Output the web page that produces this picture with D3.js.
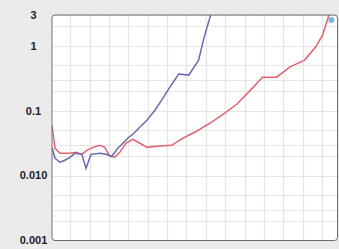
<!DOCTYPE html>
<html><head><meta charset="utf-8">
<script src="https://cdn.jsdelivr.net/npm/d3@7/dist/d3.min.js"></script>
<style>html,body{margin:0;padding:0;background:#ebebeb;}svg{display:block;}</style>
</head><body>
<svg id="c" width="339" height="249"></svg>
<script>
// Data (x = day, y = value, log scale)
const blueDays = [-6.6,-5.5,-3.7,-1.9,-0.1,1.7,4.2,5.7,7.5,10.7,12.9,15.0,17.2,19.4,20.8,23.0,25.1,27.7,30.6,33.5,36.0,39.2,42.8,46.4,48.3,49.7,51.5];
const blueValues = [0.0273,0.0185,0.0161,0.0173,0.0192,0.0221,0.0213,0.0130,0.0213,0.0221,0.0213,0.0199,0.0264,0.0327,0.0377,0.0451,0.0559,0.0716,0.102,0.157,0.232,0.368,0.355,0.605,1.32,2.10,3.85];
const redDays = [-6.6,-5.5,-3.7,-1.9,-0.1,2.1,4.2,6.0,8.2,10.7,12.5,14.3,16.1,17.9,20.1,22.6,25.2,27.7,31.3,36.7,39.6,42.1,45.7,48.6,51.1,55.8,60.2,64.8,69.5,74.6,79.3,84.7,88.7,91.2,93.4,94.8];
const redValues = [0.0598,0.0264,0.0221,0.0221,0.0221,0.0229,0.0213,0.0246,0.0273,0.0294,0.0273,0.0199,0.0192,0.0229,0.0316,0.0364,0.0316,0.0273,0.0284,0.0294,0.0352,0.0405,0.0484,0.0578,0.0667,0.0918,0.126,0.201,0.330,0.330,0.472,0.605,0.962,1.47,2.90,3.85];
const markerDay = 94.4, markerValue = 2.51;
const yTickValues = [3, 1, 0.1, 0.01, 0.001];
const yTickLabels = ["3", "1", "0.1", "0.010", "0.001"];
const xGridDays = d3.range(0, 92, 7);
const yGridValues = [];
[0.001,0.01,0.1,1].forEach(d => [1,2,3,5].forEach(m => yGridValues.push(d*m)));

const svg = d3.select("#c");
const L = 52, R = 337.5, T = 15, B = 240.5;
const x = d3.scaleLinear().domain([-6.6, 96.6]).range([L, R]);
const y = d3.scaleLog().domain([0.001, 3]).range([B, T]);

svg.append("defs").append("clipPath").attr("id","clip")
  .append("rect").attr("x", L).attr("y", T).attr("width", R-L).attr("height", B-T).attr("rx", 3);

svg.append("rect").attr("x", L).attr("y", T).attr("width", R-L).attr("height", B-T)
  .attr("rx", 3).attr("fill", "#fff");

const g = svg.append("g").attr("clip-path", "url(#clip)");
g.selectAll("line.hg").data(yGridValues).join("line").attr("class","hg")
  .attr("x1", L).attr("x2", R)
  .attr("y1", d => Math.round(y(d)) + 0.5).attr("y2", d => Math.round(y(d)) + 0.5)
  .attr("stroke", "#e6e6e6").attr("stroke-width", 1);
g.selectAll("line.vg").data(xGridDays).join("line").attr("class","vg")
  .attr("y1", T).attr("y2", B)
  .attr("x1", d => Math.round(x(d)) + 0.5).attr("x2", d => Math.round(x(d)) + 0.5)
  .attr("stroke", "#e6e6e6").attr("stroke-width", 1.3);

const line = d3.line().x(d => x(d[0])).y(d => y(d[1]));
g.append("path").datum(redDays.map((d,i) => [d, redValues[i]]))
  .attr("d", line).attr("fill","none").attr("stroke","#e0646e").attr("stroke-width",1.5);
g.append("path").datum(blueDays.map((d,i) => [d, blueValues[i]]))
  .attr("d", line).attr("fill","none").attr("stroke","#6a68b0").attr("stroke-width",1.5);

svg.append("circle").attr("cx", x(markerDay)).attr("cy", y(markerValue)).attr("r", 2.8)
  .attr("fill", "#5fa5dc").attr("fill-opacity", 0.85).attr("stroke", "#8cc0e8").attr("stroke-width", 0.8);

svg.append("rect").attr("x", L).attr("y", T).attr("width", R-L).attr("height", B-T)
  .attr("rx", 3).attr("fill", "none").attr("stroke", "#6e6e6e").attr("stroke-width", 1);

svg.selectAll("text.yl").data(yTickValues).join("text").attr("class","yl")
  .attr("x", 33.5).attr("y", d => y(d)).attr("dy", "0.35em")
  .attr("text-anchor", "middle")
  .attr("font-family", "'Liberation Sans', Arial, sans-serif")
  .attr("font-size", 11).attr("font-weight", "bold").attr("fill", "#222")
  .text((d,i) => yTickLabels[i]);
</script>
</body></html>
